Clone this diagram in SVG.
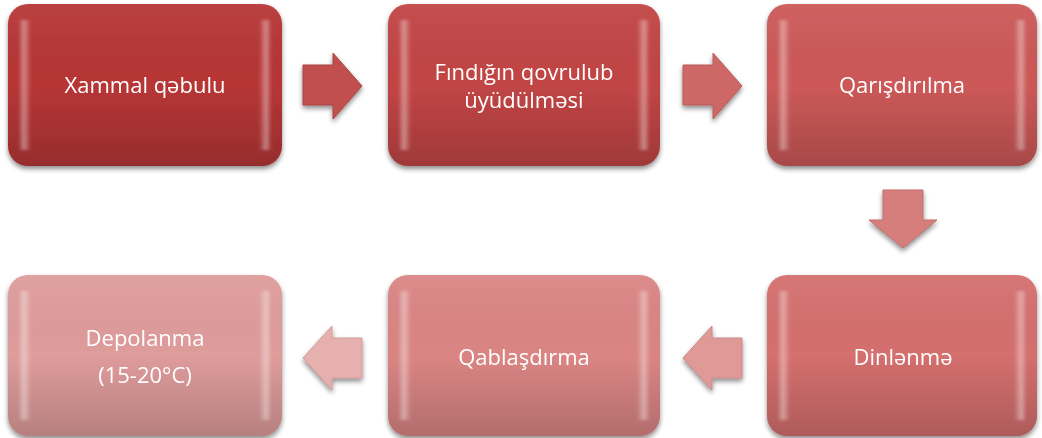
<svg xmlns="http://www.w3.org/2000/svg" width="1042" height="438" viewBox="0 0 1042 438">
<style>
.lbl{font-family:"Open Sans","Liberation Sans",sans-serif;font-size:22px;fill:#ffffff;text-anchor:middle}
.box{stroke:none}
.shade{fill:url(#shade)}
.edge{fill:url(#edgeL);filter:url(#soft)}
.edgeR{fill:url(#edgeR);filter:url(#soft)}
.arr{stroke-width:1;filter:url(#ds)}
</style>
<defs>
<linearGradient id="shade" x1="0" y1="0" x2="0" y2="1">
<stop offset="0" stop-color="#ffffff" stop-opacity="0.06"/>
<stop offset="0.5" stop-color="#000000" stop-opacity="0"/>
<stop offset="1" stop-color="#000000" stop-opacity="0.18"/>
</linearGradient>
<linearGradient id="edgeL" x1="0" y1="0" x2="1" y2="0">
<stop offset="0" stop-color="#ffffff" stop-opacity="0.05"/>
<stop offset="0.4" stop-color="#ffffff" stop-opacity="0.4"/>
<stop offset="1" stop-color="#ffffff" stop-opacity="0"/>
</linearGradient>
<linearGradient id="edgeR" x1="1" y1="0" x2="0" y2="0">
<stop offset="0" stop-color="#ffffff" stop-opacity="0.05"/>
<stop offset="0.4" stop-color="#ffffff" stop-opacity="0.4"/>
<stop offset="1" stop-color="#ffffff" stop-opacity="0"/>
</linearGradient>
<filter id="soft" x="-50%" y="-10%" width="200%" height="120%">
<feGaussianBlur stdDeviation="1.5"/>
</filter>
<filter id="ds" x="-20%" y="-20%" width="140%" height="150%">
<feGaussianBlur in="SourceAlpha" stdDeviation="2.5"/>
<feOffset dx="0" dy="3" result="b"/>
<feComponentTransfer><feFuncA type="linear" slope="0.45"/></feComponentTransfer>
<feMerge><feMergeNode/><feMergeNode in="SourceGraphic"/></feMerge>
</filter>
</defs>

<g id="connectors">
<polygon class="arr" fill="#c0504d" stroke="#a84542" points="303,65 333,65 333,53 362,86 333,119 333,105 303,105"/>
<polygon class="arr" fill="#cd6866" stroke="#b85a58" points="683,65 713,65 713,53 742,86 713,119 713,105 683,105"/>
<polygon class="arr" fill="#d67e7c" stroke="#c06e6c" points="883,190 923,190 923,220 937,220 903,248 869,220 883,220"/>
<polygon class="arr" fill="#df9a98" stroke="#c98886" points="742,338 712,338 712,326 683,358 712,390 712,378 742,378"/>
<polygon class="arr" fill="#e6b0ae" stroke="#d09c9a" points="362,338 332,338 332,326 303,358 332,390 332,378 362,378"/>
</g>

<g id="n1" filter="url(#ds)">
<rect class="box" x="8" y="4" width="274" height="162" rx="20" fill="#b73636"/>
<rect x="8" y="4" width="274" height="162" rx="20" class="shade"/>
<rect x="19" y="20" width="12" height="130" class="edge"/>
<rect x="259" y="20" width="12" height="130" class="edgeR"/>
<text class="lbl" x="145" y="93">Xammal qəbulu</text>
</g>

<g id="n2" filter="url(#ds)">
<rect class="box" x="388" y="4" width="272" height="162" rx="20" fill="#c24545"/>
<rect x="388" y="4" width="272" height="162" rx="20" class="shade"/>
<rect x="399" y="20" width="12" height="130" class="edge"/>
<rect x="637" y="20" width="12" height="130" class="edgeR"/>
<text class="lbl" x="524" y="80">Fındığın qovrulub</text>
<text class="lbl" x="524" y="108">üyüdülməsi</text>
</g>

<g id="n3" filter="url(#ds)">
<rect class="box" x="767" y="4" width="270" height="162" rx="20" fill="#cc5958"/>
<rect x="767" y="4" width="270" height="162" rx="20" class="shade"/>
<rect x="778" y="20" width="12" height="130" class="edge"/>
<rect x="1014" y="20" width="12" height="130" class="edgeR"/>
<text class="lbl" x="902" y="93">Qarışdırılma</text>
</g>

<g id="n4" filter="url(#ds)">
<rect class="box" x="767" y="275" width="270" height="161" rx="20" fill="#d46f6e"/>
<rect x="767" y="275" width="270" height="161" rx="20" class="shade"/>
<rect x="778" y="291" width="12" height="129" class="edge"/>
<rect x="1014" y="291" width="12" height="129" class="edgeR"/>
<text class="lbl" x="903" y="365">Dinlənmə</text>
</g>

<g id="n5" filter="url(#ds)">
<rect class="box" x="388" y="275" width="272" height="161" rx="20" fill="#da8584"/>
<rect x="388" y="275" width="272" height="161" rx="20" class="shade"/>
<rect x="399" y="291" width="12" height="129" class="edge"/>
<rect x="637" y="291" width="12" height="129" class="edgeR"/>
<text class="lbl" x="524" y="365">Qablaşdırma</text>
</g>

<g id="n6" filter="url(#ds)">
<rect class="box" x="8" y="275" width="274" height="161" rx="20" fill="#de9c9b"/>
<rect x="8" y="275" width="274" height="161" rx="20" class="shade"/>
<rect x="19" y="291" width="12" height="129" class="edge"/>
<rect x="259" y="291" width="12" height="129" class="edgeR"/>
<text class="lbl" x="145" y="346">Depolanma</text>
<text class="lbl" x="145" y="383">(15-20°C)</text>
</g>
</svg>
